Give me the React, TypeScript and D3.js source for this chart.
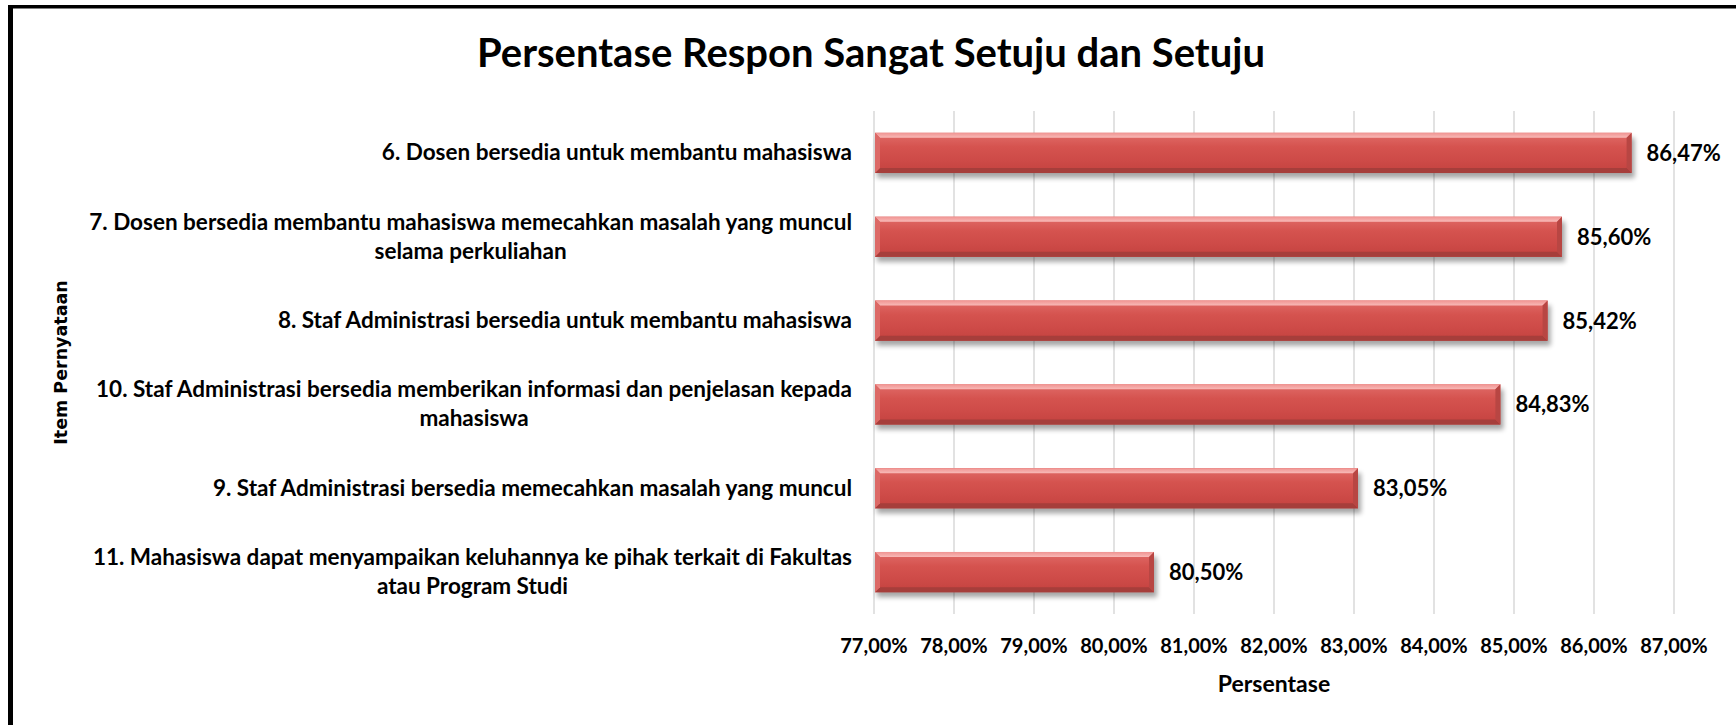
import React, { useRef, useEffect } from 'react';
import * as d3 from 'd3';

const categories = [
  '6. Dosen bersedia untuk membantu mahasiswa',
  '7. Dosen bersedia membantu mahasiswa memecahkan masalah yang muncul\nselama perkuliahan',
  '8. Staf Administrasi bersedia untuk membantu mahasiswa',
  '10. Staf Administrasi bersedia memberikan informasi dan penjelasan kepada\nmahasiswa',
  '9. Staf Administrasi bersedia memecahkan masalah yang muncul',
  '11. Mahasiswa dapat menyampaikan keluhannya ke pihak terkait di Fakultas\natau Program Studi',
];
const values = [0.8647, 0.856, 0.8542, 0.8483, 0.8305, 0.805];
const ticks = [0.77, 0.78, 0.79, 0.8, 0.81, 0.82, 0.83, 0.84, 0.85, 0.86, 0.87];

const W = 1736;
const H = 725;
const FONT = 'Lato, "Open Sans", sans-serif';

const fmt = (v: number) => (v * 100).toFixed(2).replace('.', ',') + '%';

export default function App() {
  const svgRef = useRef<SVGSVGElement>(null);

  useEffect(() => {
    if (!svgRef.current) return;
    const svg = d3.select(svgRef.current);
    svg.selectAll('*').remove();

    const x = d3.scaleLinear().domain([0.77, 0.87]).range([874, 1674]);
    const y = d3.scaleBand<string>()
      .domain(categories)
      .range([111, 614])
      .paddingInner(0.52)
      .paddingOuter(0.26);

    const defs = svg.append('defs');
    const grad = defs.append('linearGradient')
      .attr('id', 'barFill')
      .attr('x1', 0).attr('y1', 0).attr('x2', 0).attr('y2', 1);
    [
      [0, '#e16c69'],
      [0.35, '#d5534f'],
      [0.7, '#cd4a47'],
      [1, '#c3423f'],
    ].forEach(([o, c]) => grad.append('stop').attr('offset', o as number).attr('stop-color', c as string));

    const topGrad = defs.append('linearGradient')
      .attr('id', 'topFill')
      .attr('x1', 0).attr('y1', 0).attr('x2', 0).attr('y2', 1);
    topGrad.append('stop').attr('offset', 0).attr('stop-color', '#f09391');
    topGrad.append('stop').attr('offset', 1).attr('stop-color', '#f8b9b7');

    const blur = defs.append('filter').attr('id', 'shadow')
      .attr('x', '-5%').attr('y', '-50%').attr('width', '110%').attr('height', '200%');
    blur.append('feGaussianBlur').attr('stdDeviation', 2.5);

    // background
    svg.append('rect').attr('width', W).attr('height', H).attr('fill', '#fff');

    // frame
    svg.append('rect').attr('x', 8).attr('y', 5).attr('width', 5).attr('height', H).attr('fill', '#000');
    svg.append('rect').attr('x', 8).attr('y', 5).attr('width', W).attr('height', 3.5).attr('fill', '#000');

    // title
    svg.append('text')
      .attr('x', 871).attr('y', 67)
      .attr('text-anchor', 'middle')
      .attr('font-family', FONT)
      .attr('font-weight', 'bold')
      .attr('font-size', 40)
      .attr('fill', '#000')
      .text('Persentase Respon Sangat Setuju dan Setuju');

    // gridlines
    svg.append('g')
      .selectAll('line')
      .data(ticks)
      .join('line')
      .attr('x1', d => x(d)).attr('x2', d => x(d))
      .attr('y1', 111).attr('y2', 614)
      .attr('stroke', '#d9d9d9')
      .attr('stroke-width', 1.5);

    // tick labels
    svg.append('g')
      .selectAll('text')
      .data(ticks)
      .join('text')
      .attr('x', d => x(d))
      .attr('y', 653)
      .attr('text-anchor', 'middle')
      .attr('font-family', FONT)
      .attr('font-weight', 'bold')
      .attr('font-size', 20)
      .text(d => fmt(d));

    // axis titles
    svg.append('text')
      .attr('x', (x.range()[0] + x.range()[1]) / 2)
      .attr('y', 692)
      .attr('text-anchor', 'middle')
      .attr('font-family', FONT)
      .attr('font-weight', 'bold')
      .attr('font-size', 23)
      .text('Persentase');

    svg.append('text')
      .attr('transform', `translate(67,${(111 + 614) / 2}) rotate(-90)`)
      .attr('text-anchor', 'middle')
      .attr('font-family', '"DejaVu Sans", sans-serif')
      .attr('font-weight', 'bold')
      .attr('font-size', 17.5)
      .text('Item Pernyataan');

    // category labels
    const labelRight = 852;
    const lineH = 29;
    const labelSize = 22.5;
    categories.forEach(cat => {
      const lines = cat.split('\n');
      const cy = (y(cat) as number) + y.bandwidth() / 2;
      const y0 = cy - ((lines.length - 1) * lineH) / 2 + 7.5;
      const first = svg.append('text')
        .attr('x', labelRight)
        .attr('y', y0)
        .attr('text-anchor', 'end')
        .attr('font-family', FONT)
        .attr('font-weight', 'bold')
        .attr('font-size', labelSize)
        .text(lines[0]);
      if (lines.length > 1) {
        const w = (first.node() as SVGTextElement).getComputedTextLength();
        svg.append('text')
          .attr('x', labelRight - w / 2)
          .attr('y', y0 + lineH)
          .attr('text-anchor', 'middle')
          .attr('font-family', FONT)
          .attr('font-weight', 'bold')
          .attr('font-size', labelSize)
          .text(lines[1]);
      }
    });

    // bars
    const b = 5;
    const bars = svg.append('g')
      .selectAll('g')
      .data(values.map((v, i) => ({ v, c: categories[i] })))
      .join('g');

    bars.append('rect')
      .attr('x', x(0.77) + 3)
      .attr('y', d => (y(d.c) as number) + 5)
      .attr('width', d => x(d.v) - x(0.77))
      .attr('height', y.bandwidth())
      .attr('fill', '#000')
      .attr('opacity', 0.35)
      .attr('filter', 'url(#shadow)');

    bars.append('rect')
      .attr('x', x(0.77) + 1)
      .attr('y', d => y(d.c) as number)
      .attr('width', d => x(d.v) - x(0.77) - 1)
      .attr('height', y.bandwidth())
      .attr('fill', 'url(#barFill)');

    const poly = (pts: [number, number][]) => pts.map(p => p.join(',')).join(' ');

    bars.each(function (d) {
      const g = d3.select(this);
      const x0 = x(0.77) + 1;
      const x1 = x(d.v);
      const y0 = y(d.c) as number;
      const y1 = y0 + y.bandwidth();
      g.append('polygon')
        .attr('points', poly([[x0, y0], [x1, y0], [x1 - b, y0 + b], [x0 + b, y0 + b]]))
        .attr('fill', 'url(#topFill)');
      g.append('polygon')
        .attr('points', poly([[x0, y1], [x1, y1], [x1 - b, y1 - b], [x0 + b, y1 - b]]))
        .attr('fill', '#a63e3b');
      g.append('polygon')
        .attr('points', poly([[x1, y0], [x1, y1], [x1 - b, y1 - b], [x1 - b, y0 + b]]))
        .attr('fill', '#b84643');
      g.append('polygon')
        .attr('points', poly([[x0, y0], [x0, y1], [x0 + b, y1 - b], [x0 + b, y0 + b]]))
        .attr('fill', '#dc6966');
    });

    // data labels
    bars.append('text')
      .attr('x', d => x(d.v) + 15)
      .attr('y', d => (y(d.c) as number) + y.bandwidth() / 2 + 8)
      .attr('font-family', FONT)
      .attr('font-weight', 'bold')
      .attr('font-size', 22)
      .text(d => fmt(d.v));
  }, []);

  return (
    <svg
      ref={svgRef}
      width={W}
      height={H}
      style={{ position: 'absolute', left: 0, top: 0, display: 'block' }}
    />
  );
}
